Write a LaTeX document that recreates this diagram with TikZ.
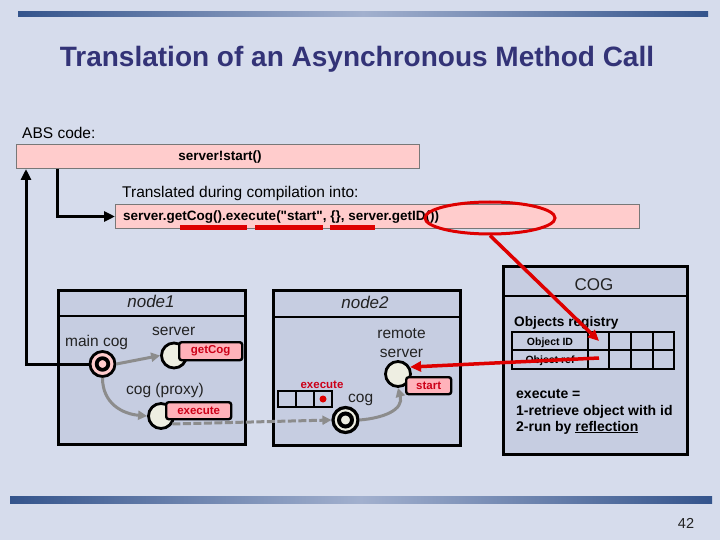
\documentclass[tikz,border=0pt]{standalone}
\usepackage{fontspec}
\setmainfont{Liberation Sans}
\newfontfamily\codefont{Liberation Sans}[Ligatures=TeXOff]
\usetikzlibrary{arrows.meta,shapes.geometric,calc}
\definecolor{bg}{RGB}{214,220,236}
\definecolor{barDark}{RGB}{52,84,140}
\definecolor{barLight}{RGB}{162,176,206}
\definecolor{titlec}{RGB}{51,51,119}
\definecolor{boxfill}{RGB}{198,205,225}
\definecolor{pinkbox}{RGB}{255,204,204}
\definecolor{tabpink}{RGB}{255,178,186}
\definecolor{redc}{RGB}{222,0,0}
\definecolor{txtred}{RGB}{204,0,24}
\definecolor{cream}{RGB}{238,238,226}
\definecolor{greyarr}{RGB}{140,140,140}
\definecolor{txt}{RGB}{34,34,34}
\newcommand\setfs[1]{\fontsize{#1}{#1}\selectfont}
\begin{document}
\begin{tikzpicture}[x=1pt,y=-1pt,
  plain/.style={inner sep=0pt, text=txt},
  codebox/.style={draw={rgb,255:red,120;green,120;blue,120}, line width=1pt, fill=pinkbox, inner sep=0pt, anchor=north west},
  frame/.style={draw=black, line width=2.8pt, fill=boxfill, inner sep=0pt, anchor=north west},
  obj/.style={circle, draw=black, line width=2.8pt, fill=cream, minimum size=25pt, inner sep=0pt},
  tabst/.style={draw=black, line width=2.4pt, fill=tabpink, rounded corners=2.5pt, inner sep=0pt, anchor=north west, text=txtred, font=\setfs{11.5}\bfseries},
  qcell/.style={draw=black, line width=2.4pt, fill=boxfill, minimum width=18pt, minimum height=16pt, inner sep=0pt},
  greyarrow/.style={draw=greyarr, line width=3pt, -{Triangle[length=9pt,width=9pt]}},
  blkarrow/.style={draw=black, line width=3pt, -{Triangle[length=11pt,width=10pt]}},
  redarrow/.style={draw=redc, line width=3.5pt, -{Triangle[length=11pt,width=10pt]}},
  grid/.style={draw=black, line width=2.8pt}
]
\fill[bg] (0,0) rectangle (720,540);
\useasboundingbox (0,0) rectangle (720,540);
\shade[left color=barDark, right color=barDark, middle color=barLight] (18,12) rectangle (708,17);
\shade[left color=barDark, right color=barDark, middle color=barLight] (10,496) rectangle (712,503);

\node[plain, text=titlec, font=\setfs{28}\bfseries, anchor=base] (title) at (357,67) {Translation of an Asynchronous Method Call};
\node[plain, text=black, font=\setfs{15.5}, anchor=base west] (abslbl) at (22,139) {ABS code:};
\node[codebox, minimum width=403pt, minimum height=24pt] (abs) at (16,144) {};
\node[plain, text=black, font=\codefont\setfs{13.5}\bfseries, anchor=base] (abstxt) at (220,161) {server!start()};
\node[plain, text=black, font=\setfs{15.5}, anchor=base west] (translbl) at (122,197) {Translated during compilation into:};
\node[codebox, minimum width=524pt, minimum height=24pt] (trans) at (115,204) {};
\node[plain, text=black, font=\codefont\setfs{13.5}\bfseries, anchor=base west] (transtxt) at (123,221) {server.getCog().execute("start", \{\}, server.getID())};

\fill[redc] (180,225) rectangle (247,230);
\fill[redc] (255,225) rectangle (323,230);
\fill[redc] (330,225) rectangle (375,230);

\draw[blkarrow] ([xshift=41pt]abs.south west) |- (trans.west);

% node1
\node[frame, minimum width=187pt, minimum height=154pt] (n1) at (57,289) {};
\draw[line width=2.8pt] ([yshift=-27pt]n1.north west) -- ([yshift=-27pt]n1.north east);
\node[plain, font=\setfs{17}\itshape, anchor=base] (n1t) at (151,307) {node1};
\node[plain, font=\setfs{15.5}, anchor=base west] (mclbl) at (65,346) {main cog};
\node[plain, font=\setfs{15.5}, anchor=base west] (srvlbl) at (152,335) {server};
\node[plain, font=\setfs{15.5}, anchor=base west] (pxlbl) at (126,394) {cog (proxy)};
\node[obj, fill=pinkbox] (mc) at (102.5,364) {};
\draw[line width=3.8pt, fill=pinkbox] (mc.center) circle[radius=5.8pt];
\node[obj] (srv) at (174,355.5) {};
\node[tabst, minimum width=63pt, minimum height=18pt] (gctab) at (178,341) {getCog};
\node[obj] (px) at (161,416) {};
\node[tabst, minimum width=65pt, minimum height=17pt] (extab) at (165,401) {execute};
\draw[blkarrow] (mc.west) -| ([xshift=10pt]abs.south west);
\draw[greyarrow] (mc.east) -- (srv.west);
\draw[greyarrow] (mc.south) .. controls +(0,26) and +(-24,-2) .. (px.west);

% node2
\node[frame, minimum width=187pt, minimum height=155pt] (n2) at (272,289) {};
\draw[line width=2.8pt] ([yshift=-28pt]n2.north west) -- ([yshift=-28pt]n2.north east);
\node[plain, font=\setfs{17}\itshape, anchor=base] (n2t) at (365,308) {node2};
\node[plain, font=\setfs{15.5}, anchor=base] (rslbl1) at (401.5,338) {remote};
\node[plain, font=\setfs{15.5}, anchor=base] (rslbl2) at (401.5,357) {server};
\node[plain, font=\setfs{15.5}, anchor=base west] (coglbl) at (348,402) {cog};
\node[plain, text=txtred, font=\setfs{11.5}\bfseries, anchor=base] (qlbl) at (322,388) {execute};
\node[qcell] (q1) at (287,399) {};
\node[qcell] (q2) at (305,399) {};
\node[qcell] (q3) at (323,399) {};
\fill[redc] (q3.center) circle[radius=3.5pt];
\node[obj, line width=3.2pt] (ncog) at (345.5,420) {};
\draw[line width=4pt, fill=cream] (ncog.center) circle[radius=6.5pt];
\node[obj] (rs) at (398,374) {};
\node[tabst, minimum width=45pt, minimum height=17pt] (sttab) at (405,376) {start};
\draw[greyarrow, dash pattern=on 8pt off 2.5pt] (px.-35) -- (ncog.west);
\draw[greyarrow] (ncog.east) .. controls +(24,-2) and +(6,22) .. (rs.south);

% COG
\node[frame, minimum width=184pt, minimum height=188pt] (cog) at (502,265) {};
\draw[line width=2.8pt] ([yshift=-31pt]cog.north west) -- ([yshift=-31pt]cog.north east);
\node[plain, font=\setfs{17}, anchor=base] (cogt) at (594,290) {COG};
\node[plain, text=black, font=\setfs{13.7}\bfseries, anchor=base west] (reglbl) at (514,326) {Objects registry};
\draw[grid] (512,332) rectangle (674,369);
\draw[grid] (512,350) -- (674,350);
\foreach \gx in {588,609,631,653} \draw[grid] (\gx,332) -- (\gx,369);
\node[plain, text=black, font=\setfs{10.5}\bfseries, anchor=base] (oid) at (550,345) {Object ID};
\node[plain, text=black, font=\setfs{10.5}\bfseries, anchor=base] (oref) at (550,363.5) {Object ref};
\coordinate (idc) at (599,341);
\coordinate (refc) at (599,358);
\node[plain, text=black, font=\setfs{14}\bfseries, anchor=base west] (ex1) at (516,398) {execute =};
\node[plain, text=black, font=\setfs{14}\bfseries, anchor=base west] (ex2) at (516,415) {1-retrieve object with id};
\node[plain, text=black, font=\setfs{14}\bfseries, anchor=base west] (ex3) at (516,431) {2-run by \underline{reflection}};

% red highlights
\node[draw=redc, line width=3pt, ellipse, minimum width=130pt, minimum height=32pt, inner sep=0pt] (ell) at (490,218) {};
\draw[redarrow] (ell.south) -- (idc);
\draw[redarrow] (refc) -- (rs.30);

\node[plain, font=\setfs{14.5}, anchor=base] (pg) at (686,528) {42};
\end{tikzpicture}
\end{document}
